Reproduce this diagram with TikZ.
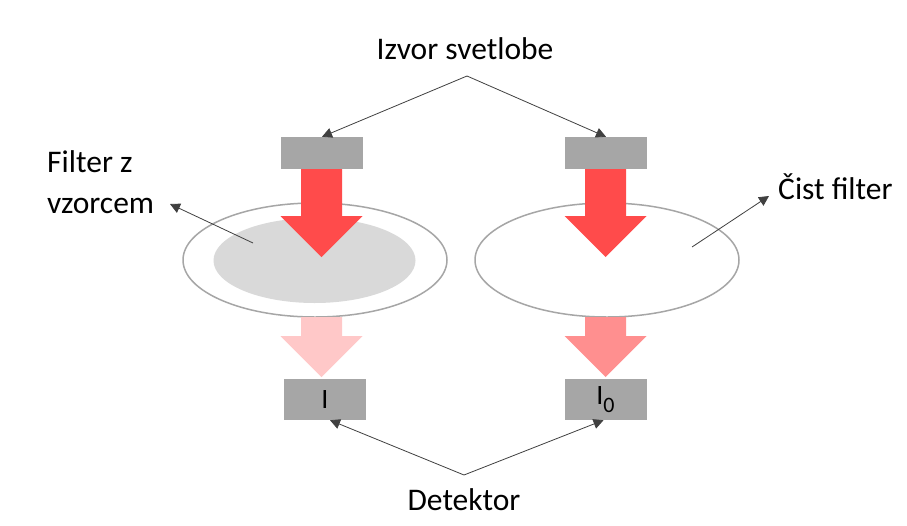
\documentclass[tikz,border=0pt]{standalone}
\usepackage{fontspec}
\setmainfont{Carlito}
\usetikzlibrary{arrows.meta}
\definecolor{boxgrey}{HTML}{A6A6A6}
\definecolor{redA}{HTML}{FF4B4B}
\definecolor{redLight}{HTML}{FFC8C8}
\definecolor{redMid}{HTML}{FF8F8F}
\definecolor{sampleGrey}{HTML}{D9D9D9}
\definecolor{lineGrey}{HTML}{404040}
\tikzset{
  greybox/.style={fill=boxgrey, draw=none, minimum width=82pt, minimum height=32pt, inner sep=0pt, font=\fontsize{28}{32}\selectfont},
  detbox/.style={greybox, minimum height=41pt},
  lbl/.style={font=\fontsize{31.5}{41}\selectfont, inner sep=0pt, text=black},
  conn/.style={draw=lineGrey, line width=0.8pt, -{Triangle[length=10pt,width=10pt]}},
  filterring/.style={draw=boxgrey, line width=1.5pt, fill=white},
}
\newcommand{\blockarrow}[4]{% x center, y top, y tip, colour
  \fill[#4] (#1-20.5,#2) -- (#1+20.5,#2) -- (#1+20.5,#3-41) -- (#1+41,#3-41) -- (#1,#3) -- (#1-41,#3-41) -- (#1-20.5,#3-41) -- cycle;}
\begin{document}
\begin{tikzpicture}[x=1pt,y=-1pt]
\useasboundingbox (0,0) rectangle (907,525);
\fill[white] (0,0) rectangle (907,525);
% filters
\draw[filterring] (315,260) ellipse [x radius=132, y radius=57];
\fill[sampleGrey] (314.5,260.5) ellipse [x radius=101, y radius=42.5];
\draw[filterring] (607,260) ellipse [x radius=132, y radius=57];
% source boxes
\node[greybox] (srcL) at (322,153) {};
\node[greybox] (srcR) at (606,153) {};
% detector boxes
\node[detbox] (detL) at (325,399.5) {I};
\node[detbox] (detR) at (605.5,399.5) {I\raisebox{-8pt}{\fontsize{22}{24}\selectfont 0}};
% beams
\blockarrow{321.5}{169}{257}{redA}
\blockarrow{605.5}{169}{257}{redA}
\blockarrow{321.5}{317}{377}{redLight}
\blockarrow{605.5}{317}{377}{redMid}
% labels
\node[lbl] (izvor) at (465,49) {Izvor svetlobe};
\node[lbl] (detektor) at (464,500) {Detektor};
\node[lbl, align=left, anchor=west] (filterz) at (47,182) {Filter z\\vzorcem};
\node[lbl, anchor=west] (cist) at (778,187) {Čist filter};
% connectors
\coordinate (izvorPt) at (467,76);
\coordinate (detPt) at (464,475);
\coordinate (sampPt) at (253,243);
\coordinate (sampTip) at (170,204);
\coordinate (cistPt) at (692,247);
\coordinate (cistTip) at (769,196);
\draw[conn] (izvorPt) -- (srcL.north);
\draw[conn] (izvorPt) -- (srcR.north);
\draw[conn] (detPt) -- ([xshift=5pt]detL.south);
\draw[conn] (detPt) -- ([xshift=-2pt]detR.south);
\draw[conn] (sampPt) -- (sampTip);
\draw[conn] (cistPt) -- (cistTip);
\end{tikzpicture}
\end{document}
